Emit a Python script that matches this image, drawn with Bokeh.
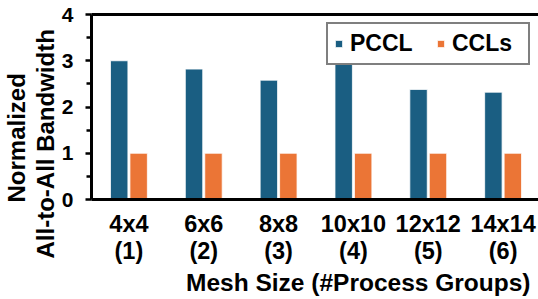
from bokeh.plotting import figure
from bokeh.models import (ColumnDataSource, FixedTicker, LinearAxis, Title,
                          Legend, LegendItem, Range1d)
from bokeh.transform import dodge
from bokeh.embed import file_html
from bokeh.resources import INLINE

# ---- data ----
mesh = ["4x4", "6x6", "8x8", "10x10", "12x12", "14x14"]
groups = ["(1)", "(2)", "(3)", "(4)", "(5)", "(6)"]
pccl = [3.00, 2.82, 2.58, 3.03, 2.38, 2.32]
ccls = [1.0, 1.0, 1.0, 1.0, 1.0, 1.0]
xpos = [1, 2, 3, 4, 5, 6]
y_ticks = [0, 1, 2, 3, 4]
y_minor = [0.5, 1.5, 2.5, 3.5]

FONT = "Liberation Sans"
BLUE = "#1a5e82"
ORANGE = "#eb7536"

src = ColumnDataSource(dict(x=xpos, pccl=pccl, ccls=ccls))

p = figure(width=538, height=299, output_backend="svg", toolbar_location=None,
           x_range=Range1d(0.5, 6.473), y_range=Range1d(0, 4),
           min_border_left=90, min_border_right=0, min_border_top=14,
           min_border_bottom=100)
p.xgrid.grid_line_color = None
p.ygrid.grid_line_color = None
p.outline_line_color = None
p.background_fill_color = "white"
p.border_fill_color = "white"

r1 = p.vbar(x=dodge("x", -0.13, range=p.x_range), top="pccl", width=0.233,
            source=src, fill_color=BLUE, line_color="white", line_width=0.8)
r2 = p.vbar(x=dodge("x", 0.13, range=p.x_range), top="ccls", width=0.233,
            source=src, fill_color=ORANGE, line_color="white", line_width=0.8)

# x axis
xa = p.xaxis[0]
xa.ticker = FixedTicker(ticks=xpos)
xa.major_label_overrides = {x: f"{m}\n{g}" for x, m, g in zip(xpos, mesh, groups)}
xa.major_tick_line_color = None
xa.minor_tick_line_color = None
xa.axis_line_width = 3
xa.axis_line_color = "black"
xa.major_label_text_font = FONT
xa.major_label_text_font_style = "bold"
xa.major_label_text_font_size = "23.5px"
xa.major_label_text_color = "black"
xa.major_label_text_line_height = 1.05
xa.major_label_standoff = 5

# y axis
ya = p.yaxis[0]
ya.ticker = FixedTicker(ticks=y_ticks, minor_ticks=y_minor)
ya.axis_line_width = 3
ya.axis_line_color = "black"
ya.major_tick_line_width = 2.5
ya.minor_tick_line_width = 2.5
ya.major_tick_in = 0
ya.major_tick_out = 6
ya.minor_tick_in = 0
ya.minor_tick_out = 5
ya.major_label_text_font = FONT
ya.major_label_text_font_style = "bold"
ya.major_label_text_font_size = "21px"
ya.major_label_text_color = "black"
ya.major_label_standoff = 12

# top frame line
top = LinearAxis(ticker=FixedTicker(ticks=[]), axis_line_width=3,
                 axis_line_color="black", major_tick_line_color=None,
                 minor_tick_line_color=None, major_label_text_font_size="0px")
p.add_layout(top, "above")

# y label (two lines, inner first)
p.add_layout(Title(text="All-to-All  Bandwidth", align="left", offset=-59,
                   text_font=FONT, text_font_style="bold", text_font_size="24px",
                   text_color="black", standoff=0), "left")
p.add_layout(Title(text="Normalized", align="left", offset=-3,
                   text_font=FONT, text_font_style="bold", text_font_size="24px",
                   text_color="black", standoff=0), "left")

# x label
p.add_layout(Title(text="Mesh Size (#Process Groups)", align="right", offset=8,
                   text_font=FONT, text_font_style="bold", text_font_size="24.5px",
                   text_color="black", standoff=0), "below")

legend = Legend(items=[LegendItem(label="PCCL", renderers=[r1]),
                       LegendItem(label="CCLs", renderers=[r2])],
                orientation="horizontal", location="top_right",
                label_text_font=FONT, label_text_font_style="bold",
                label_text_font_size="23px", label_text_color="black",
                glyph_width=9, glyph_height=9, label_standoff=7, spacing=16,
                label_width=70, padding=6, margin=8, border_line_color="black",
                border_line_width=2.5, background_fill_alpha=1)
p.add_layout(legend, "center")

open("out.html", "w").write(file_html(p, INLINE))
